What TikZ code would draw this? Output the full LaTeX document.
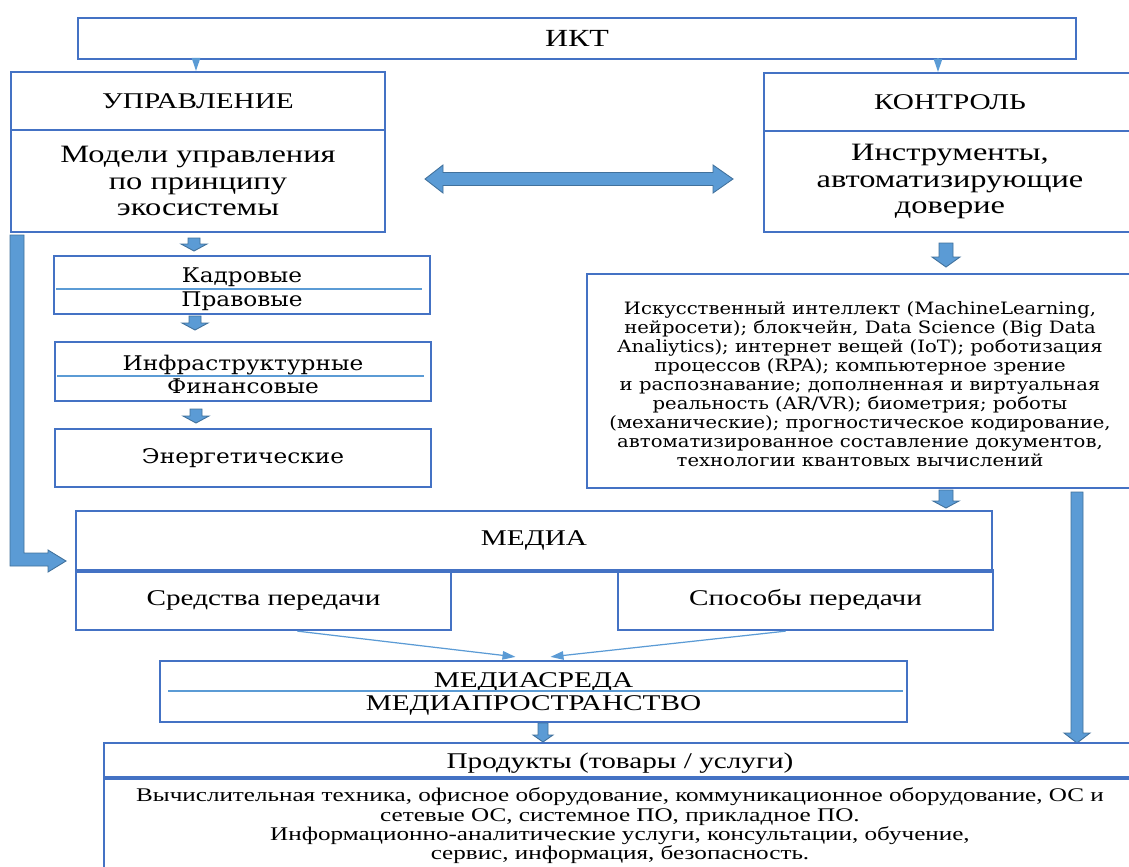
\documentclass[tikz,border=0pt]{standalone}
\usepackage{fontspec}
\setmainfont{Liberation Serif}[FakeStretch=1.3]
\newfontfamily\wideserif{DejaVu Serif}[FakeStretch=1.15]
\usetikzlibrary{arrows.meta,positioning,calc}
\definecolor{BoxBlue}{RGB}{68,114,196}
\definecolor{ArrowFill}{RGB}{91,155,213}
\definecolor{ArrowEdge}{RGB}{65,113,156}
\tikzset{
  box/.style={draw=BoxBlue, line width=1.3pt, inner sep=0pt, align=center},
  boxtext/.style={inner sep=0pt, align=center},
  midtext/.style={font=\fontsize{12.8}{13}\selectfont},
  bigtext/.style={font=\fontsize{14.2}{15.3}\selectfont},
  widetext/.style={font=\wideserif\fontsize{11.5}{13.6}\selectfont},
  divider/.style={ArrowFill, line width=0.6pt},
  thinarrow/.style={ArrowFill, line width=0.7pt, -{Triangle[length=2.6mm, width=1.7mm]}},
  barrow/.style={fill=ArrowFill, draw=ArrowEdge, line width=0.5pt, line join=miter},
  pics/downarrow/.style n args={4}{code={
    \draw[barrow] (-#1,0) -- (#1,0) -- (#1,#3-#4) -- (#2,#3-#4) -- (0,#3)
      -- (-#2,#3-#4) -- (-#1,#3-#4) -- cycle;}}
}
\begin{document}
\begin{tikzpicture}[x=0.02cm, y=-0.02cm]
  \useasboundingbox (0,0) rectangle (1129,866);
  % top level
  \node[box, minimum width=19.96cm, minimum height=0.82cm, font=\fontsize{14}{16}\selectfont] (ikt) at (577,38.5) {ИКТ};
  \node[box, midtext, minimum width=7.48cm, minimum height=1.16cm] (upr) at (198,101) {УПРАВЛЕНИЕ};
  \node[box, bigtext, minimum width=7.48cm, minimum height=2.04cm] (models) at (198,181) {Модели управления\\по принципу\\экосистемы};
  \node[box, midtext, minimum width=7.44cm, minimum height=1.16cm] (kontr) at (950,102) {КОНТРОЛЬ};
  \node[box, bigtext, minimum width=7.44cm, minimum height=2.02cm] (tools) at (950,181.5) {Инструменты,\\автоматизирующие\\доверие};
  \coordinate (ku) at (196,58);
  \coordinate (kk) at (938,58);
  \draw[thinarrow] (ku) -- (ku |- upr.north);
  \draw[thinarrow] (kk) -- (kk |- kontr.north);
  \draw[barrow] (425,179) -- (443,165) -- (443,172.5) -- (713,172.5) -- (713,165) -- (733,179)
    -- (713,193) -- (713,185.5) -- (443,185.5) -- (443,193) -- cycle;

  % left column
  \node[box, minimum width=7.52cm, minimum height=1.16cm] (kadr) at (242,285) {};
  \node[boxtext, widetext] (kadrtext) at ($(kadr.center)+(0,4)$) {Кадровые\\Правовые};
  \draw[divider] (56,289) -- (422,289);
  \node[box, minimum width=7.52cm, minimum height=1.18cm] (infra) at (243,371.5) {};
  \node[boxtext, font=\wideserif\fontsize{11.5}{13}\selectfont] (infratext) at ($(infra.center)+(0,3)$) {Инфраструктурные\\Финансовые};
  \draw[divider] (57,376) -- (424,376);
  \node[box, widetext, minimum width=7.52cm, minimum height=1.16cm] (energ) at (243,458) {Энергетические};
  \pic at (194,238) {downarrow={6}{13}{13}{7}};
  \pic at (195,316) {downarrow={6}{13}{14}{7}};
  \pic at (196,409) {downarrow={6}{13}{14}{7}};
  \draw[barrow] (10,235) -- (24,235) -- (24,553) -- (48,553) -- (48,550) -- (66,561)
    -- (48,572) -- (48,566) -- (10,566) -- cycle;

  % right column
  \node[box, minimum width=10.92cm, minimum height=4.28cm] (tech) at (860,381) {};
  \node[boxtext, font=\wideserif\fontsize{9.7}{10.85}\selectfont] (techtext) at ($(tech.center)+(0,3)$)
    {Искусственный интеллект (MachineLearning,\\нейросети); блокчейн, Data Science (Big Data\\Analiytics); интернет вещей (IoT); роботизация\\процессов (RPA); компьютерное зрение\\и распознавание; дополненная и виртуальная\\реальность (AR/VR); биометрия; роботы\\(механические); прогностическое кодирование,\\автоматизированное составление документов,\\технологии квантовых вычислений};
  \pic at (946,243) {downarrow={7}{14}{24}{10}};
  \pic at (946,490) {downarrow={7}{13}{18}{7}};
  \pic at (1077,492) {downarrow={6}{13}{251}{10}};

  % media
  \node[box, midtext, minimum width=18.32cm, minimum height=1.18cm] (media) at (534,540.5) {МЕДИА};
  \node[box, midtext, minimum width=7.5cm, minimum height=1.2cm] (sredstva) at (263.5,600) {Средства передачи};
  \node[box, midtext, minimum width=7.5cm, minimum height=1.2cm] (sposoby) at (805.5,600) {Способы передачи};
  \draw[BoxBlue, line width=2.4pt] (media.south west) -- (media.south east);
  \node[box, minimum width=14.94cm, minimum height=1.22cm] (sreda) at (533.5,691.5) {};
  \node[boxtext, font=\fontsize{12.8}{13}\selectfont] (sredatext) at ($(sreda.center)+(0,2.5)$) {МЕДИАСРЕДА\\МЕДИАПРОСТРАНСТВО};
  \draw[divider] (168,691) -- (903,691);
  \draw[thinarrow] ($(sredstva.south)+(34,0)$) -- ($(sreda.north)+(-18,-3)$);
  \draw[thinarrow] ($(sposoby.south)+(-20,0)$) -- ($(sreda.north)+(17,-3)$);
  \pic at (543,723) {downarrow={5}{10}{19}{7}};

  % products
  \node[box, minimum width=20.64cm, minimum height=0.68cm] (prodhead) at (620,760) {};
  \node[boxtext, midtext] (prodtext) at ($(prodhead.center)+(0,3)$) {Продукты (товары / услуги)};
  \node[box, minimum width=20.64cm, minimum height=2.06cm] (prodbody) at (620,830) {};
  \node[boxtext, font=\fontsize{11}{11}\selectfont] (prodbodytext) at (620,826)
    {Вычислительная техника, офисное оборудование, коммуникационное оборудование, ОС и\\сетевые ОС, системное ПО, прикладное ПО.\\Информационно-аналитические услуги, консультации, обучение,\\сервис, информация, безопасность.};
\end{tikzpicture}
\end{document}
